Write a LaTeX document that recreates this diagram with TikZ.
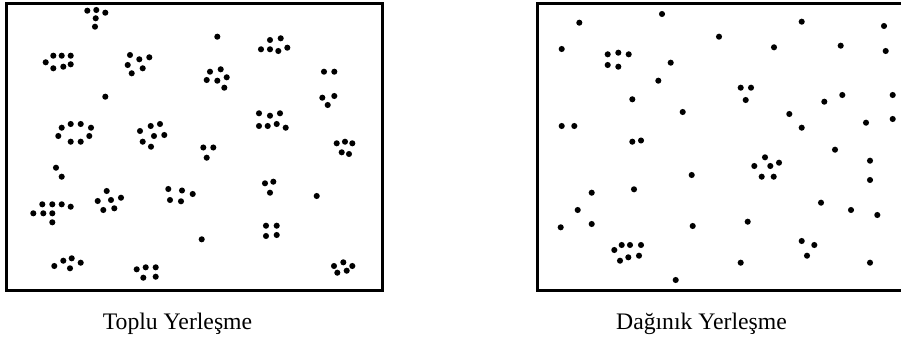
\documentclass[tikz,border=0pt]{standalone}
\usepackage{fontspec}
\setmainfont{Liberation Serif}
\begin{document}
\begin{tikzpicture}[x=1pt,y=-1pt,
  frame/.style={draw=black,line width=3pt},
  dot/.style={fill=black},
  caption/.style={anchor=base,inner sep=0pt,font=\fontsize{23.7}{28}\selectfont}]
\useasboundingbox (0,0) rectangle (901,342);
\fill[white] (0,0) rectangle (901,342);
% frames
\draw[frame] (6.5,4) rectangle (382.5,290);
\begin{scope}
\clip (0,0) rectangle (901,342);
\draw[frame] (537.2,4) rectangle (910,290);
\end{scope}
% left panel dots (clustered)
\foreach \p in {
 (87.3,10.7),(96.3,10),(105.3,12.7),(95.7,18.3),(95,26.7),
 (53.3,55.7),(61.7,55.7),(70.7,55.7),(45.7,62.3),(53.3,68.3),(63.3,66.7),(70.7,64.3),
 (130,55),(139.3,59.3),(149.3,57.3),(127.7,65),(142.7,68.3),(131.7,73.3),
 (105.3,96.7),
 (61.7,127.7),(70.7,124),(80.7,124),(91,127.7),(58.3,136),(89.3,136),(70.7,141.7),(80.7,141.7),
 (140,131),(150.7,126),(160,124),(154,136),(164.3,135),(142.7,141.7),(151,146.7),
 (56,167.7),(61.7,176.7),
 (42.3,204.3),(52.3,204.3),(61.7,204.3),(70.7,206.7),(33.3,213.3),(43.3,213.3),(52.3,213.3),(52.3,222.3),
 (106.7,191),(97.7,201),(111,200),(121,197.7),(103.3,210),(114.3,208.3),
 (168.3,189),(182,190.5),(192.7,194),(170,200),(181,201.3),
 (54.3,266),(63.3,260.7),(71.7,258.3),(80.7,262.7),(70,268.3),
 (136.7,269.3),(145.7,267.3),(155.7,267.3),(143.3,277.7),(155.7,276.7),
 (203.3,147.5),(213.3,147.5),(206.7,157.7),
 (336.7,143.3),(345,141.7),(352.3,143.3),(341.7,152.3),(349,154),
 (265,183.3),(273.3,181.7),(270,192.7),
 (316.7,196),
 (266,225.7),(276.7,225.7),(266,236),(276.7,235),
 (201.7,239.3),
 (334,266),(343.3,262.3),(352.3,266),(337.3,272.7),(346.7,270.7),
 (217.3,36.7),
 (270,40),(280.7,38.3),(261,49.3),(270,49.3),(278.3,51),(287.3,47.7),
 (210,71.7),(220.7,69.3),(206.7,80),(217.3,80.7),(226.7,77.3),(224.3,87.7),
 (324,71.7),(334.3,71.7),
 (322.3,97.7),(334.3,96),(327.7,105),
 (259,113.3),(270,115.7),(280,113.3),(259,126),(267.7,126),(276.7,124),(285.7,127.7)}
 \fill[dot] \p circle (3.05);
% right panel dots (dispersed)
\foreach \p in {
 (579.3,22.7),(662,14),(719,36.7),(561.7,49),
 (607.7,54.3),(618.3,52.7),(628.7,54.3),(607.7,65),(618.3,66.7),
 (670.7,62.7),(658.3,80.7),(632.3,99.3),(682.7,112),
 (561.7,126),(574.3,126),(632.3,141.7),(641,140.5),
 (801.7,21.7),(884,26),(774,47.3),(840.7,45.7),(885.7,51),
 (740.7,87.7),(751,87.7),(745.7,100),
 (892.7,95),(842.3,95),(824.3,101.7),(789.3,114),(892.7,119),(866,122.7),(801.7,127.7),
 (691.7,175),(591.7,192.7),(634,189.3),(577.7,210),(560.7,227.3),(591.7,224),(692.7,226),
 (614.3,250),(621.7,245),(630,245),(641,245),(620,260.7),(628.3,257.3),(639,255.7),
 (675.7,280),
 (835,149.7),
 (765,157.3),(754.3,166),(770.3,166),(779,162.7),(761.7,176.7),(773.7,176.7),
 (870,160.7),(870,180),(821,202.7),(851,210),(877.3,215),(747.7,221.7),
 (801.7,241),(814.3,245),(807,255.7),
 (740.7,262.7),(870,262.7)}
 \fill[dot] \p circle (3.05);
% captions
\node[caption] (lcap) at (177.5,329) {Toplu Yerleşme};
\node[caption] (rcap) at (701.5,329) {Dağınık Yerleşme};
\end{tikzpicture}
\end{document}
